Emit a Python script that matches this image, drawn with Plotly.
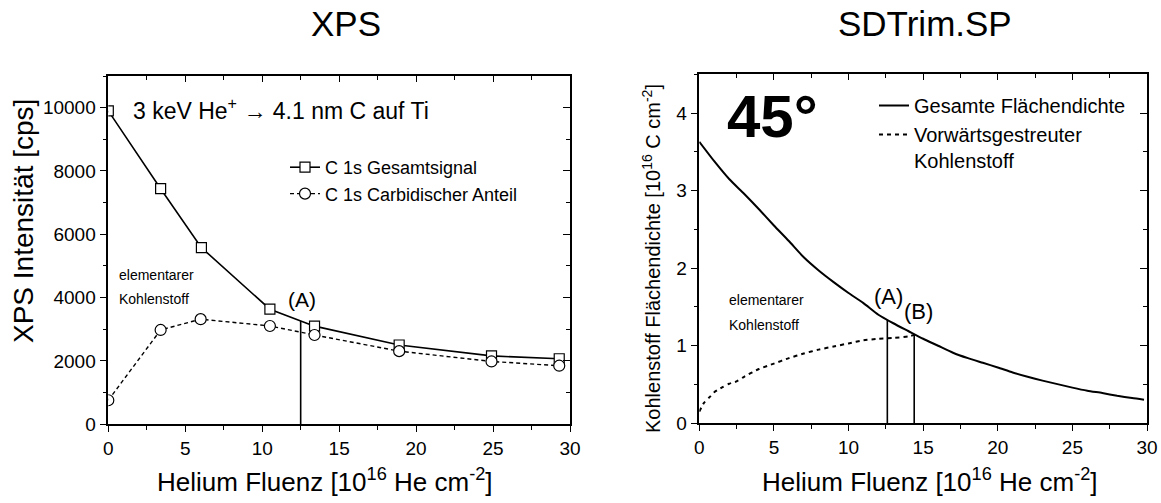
import numpy as np
import plotly.graph_objects as go

W, H = 1161, 503
FONT = "Liberation Sans, Arial, sans-serif"

# ---------------- data: XPS (left) ----------------
xps_fluence_total = [0.0, 3.4, 6.05, 10.5, 13.4, 18.9, 24.9, 29.3]
xps_total = [9900, 7440, 5580, 3635, 3100, 2505, 2160, 2070]
xps_fluence_carb = [0.0, 3.4, 6.0, 10.5, 13.4, 18.9, 24.9, 29.3]
xps_carb = [760, 2980, 3320, 3105, 2820, 2310, 1985, 1850]
xps_marker_A = [12.5]

# ---------------- data: SDTrim.SP (right) ----------------
sim_fluence_total = [0, 1, 2, 3, 4, 5, 6, 7, 8, 9, 10, 11, 12, 13, 14, 15, 16, 17,
                     18, 19, 20, 21, 22, 23, 24, 25, 26, 27, 28, 29, 29.8]
sim_total = [3.63, 3.38, 3.15, 2.96, 2.76, 2.55, 2.35, 2.14, 1.97, 1.82, 1.68, 1.55,
             1.40, 1.29, 1.19, 1.09, 1.00, 0.91, 0.84, 0.78, 0.72, 0.655, 0.60, 0.55,
             0.505, 0.46, 0.42, 0.39, 0.355, 0.325, 0.305]
sim_fluence_fwd = [0, 0.3, 0.7, 1, 1.5, 2, 2.5, 3, 4, 5, 6, 7, 8, 9, 10, 11, 12, 13, 14, 14.4]
sim_fwd = [0.15, 0.26, 0.34, 0.40, 0.46, 0.51, 0.54, 0.60, 0.70, 0.77, 0.84, 0.90,
           0.95, 0.99, 1.03, 1.07, 1.09, 1.10, 1.12, 1.14]
sim_markers = [12.6, 14.4]

x_ticks = [0, 5, 10, 15, 20, 25, 30]


def px(x):
    return x / W


def py(y):
    return 1 - y / H


fig = go.Figure()

# left panel traces
fig.add_trace(go.Scatter(
    x=xps_fluence_total, y=xps_total, mode="lines+markers", name="C 1s Gesamtsignal",
    line=dict(color="black", width=1.6),
    marker=dict(symbol="square", size=10, color="white", line=dict(color="black", width=1.2)),
    xaxis="x", yaxis="y", legend="legend"))
fig.add_trace(go.Scatter(
    x=xps_fluence_carb, y=xps_carb, mode="lines+markers", name="C 1s Carbidischer Anteil",
    line=dict(color="black", width=1.4, dash="4px,3px"),
    marker=dict(symbol="circle", size=11, color="white", line=dict(color="black", width=1.2)),
    xaxis="x", yaxis="y", legend="legend"))
for xm in xps_marker_A:
    fig.add_trace(go.Scatter(
        x=[xm, xm], y=[0, float(np.interp(xm, xps_fluence_total, xps_total))],
        mode="lines", line=dict(color="black", width=1.6), showlegend=False,
        xaxis="x", yaxis="y", hoverinfo="skip"))

# right panel traces
fig.add_trace(go.Scatter(
    x=sim_fluence_total, y=sim_total, mode="lines", name="Gesamte Flächendichte",
    line=dict(color="black", width=2, shape="spline", smoothing=0.6),
    xaxis="x2", yaxis="y2", legend="legend2"))
fig.add_trace(go.Scatter(
    x=sim_fluence_fwd, y=sim_fwd, mode="lines", name="Vorwärtsgestreuter<br>Kohlenstoff",
    line=dict(color="black", width=2, dash="4px,4px", shape="spline", smoothing=0.6),
    xaxis="x2", yaxis="y2", legend="legend2"))
for xm in sim_markers:
    fig.add_trace(go.Scatter(
        x=[xm, xm], y=[0, float(np.interp(xm, sim_fluence_total, sim_total))],
        mode="lines", line=dict(color="black", width=1.6), showlegend=False,
        xaxis="x2", yaxis="y2", hoverinfo="skip"))

# empty traces to activate the mirrored (inside-tick) overlay axes
for xa, ya in (("x3", "y3"), ("x4", "y4")):
    fig.add_trace(go.Scatter(x=[None], y=[None], mode="lines", showlegend=False,
                             xaxis=xa, yaxis=ya, hoverinfo="skip"))

L_dom_x = [px(108.3), px(570)]
L_dom_y = [py(424.3), py(76)]
R_dom_x = [px(699.3), px(1147)]
R_dom_y = [py(423.3), py(74.3)]

axis_common = dict(showgrid=False, zeroline=False, showline=True, linecolor="black",
                   linewidth=1.5, tickcolor="black", tickwidth=1.3, tickformat="d",
                   automargin=False,
                   tickfont=dict(family=FONT, size=19, color="black"))


def base_x(domain, anchor):
    return dict(axis_common, domain=domain, anchor=anchor, range=[0, 30], tickvals=x_ticks,
                ticks="outside", ticklen=6,
                minor=dict(dtick=2.5, tick0=0, ticks="outside", ticklen=3.5,
                           tickcolor="black", tickwidth=1.2))


def base_y(domain, anchor, rng, dtick, mdtick):
    return dict(axis_common, domain=domain, anchor=anchor, range=rng, dtick=dtick, tick0=0,
                ticks="outside", ticklen=7,
                minor=dict(dtick=mdtick, tick0=0, ticks="outside", ticklen=3.5,
                           tickcolor="black", tickwidth=1.2))


def top_x(base, anchor):
    return dict(axis_common, overlaying=base, anchor=anchor, side="top", range=[0, 30],
                tickvals=x_ticks, ticks="inside", ticklen=6, showticklabels=False,
                minor=dict(dtick=2.5, tick0=0, ticks="inside", ticklen=4,
                           tickcolor="black", tickwidth=1.2))


def right_y(base, anchor, rng, dtick, mdtick):
    return dict(axis_common, overlaying=base, anchor=anchor, side="right", range=rng,
                dtick=dtick, tick0=0, ticks="inside", ticklen=7, showticklabels=False,
                minor=dict(dtick=mdtick, tick0=0, ticks="inside", ticklen=4,
                           tickcolor="black", tickwidth=1.2))


fig.update_layout(
    width=W, height=H, margin=dict(l=0, r=0, t=0, b=0),
    paper_bgcolor="white", plot_bgcolor="white",
    font=dict(family=FONT, color="black"),
    xaxis=base_x(L_dom_x, "y"),
    yaxis=base_y(L_dom_y, "x", [0, 11000], 2000, 1000),
    xaxis2=base_x(R_dom_x, "y2"),
    yaxis2=base_y(R_dom_y, "x2", [0, 4.5], 1, 0.5),
    xaxis3=top_x("x", "y3"),
    yaxis3=right_y("y", "x3", [0, 11000], 2000, 1000),
    xaxis4=top_x("x2", "y4"),
    yaxis4=right_y("y2", "x4", [0, 4.5], 1, 0.5),
    legend=dict(x=px(285), y=py(149), xanchor="left", yanchor="top",
                bgcolor="rgba(0,0,0,0)", font=dict(family=FONT, size=18),
                tracegroupgap=0, itemwidth=30),
    legend2=dict(x=px(874), y=py(86), xanchor="left", yanchor="top", valign="top",
                 bgcolor="rgba(0,0,0,0)", font=dict(family=FONT, size=20),
                 tracegroupgap=0, itemwidth=30),
    showlegend=True,
)

ann = []


def paper_text(text, x, y, size, angle=0, xanchor="center", bold=False):
    ann.append(dict(text=f"<b>{text}</b>" if bold else text, x=px(x), y=py(y),
                    xref="paper", yref="paper", showarrow=False, textangle=angle,
                    xanchor=xanchor, yanchor="middle",
                    font=dict(family=FONT, size=size, color="black")))


def data_text(text, x, y, xr, yr, size, xanchor="center", bold=False):
    ann.append(dict(text=f"<b>{text}</b>" if bold else text, x=x, y=y, xref=xr, yref=yr,
                    showarrow=False, xanchor=xanchor, yanchor="middle",
                    font=dict(family=FONT, size=size, color="black")))


# panel titles
paper_text("XPS", 346, 23, 35)
paper_text("SDTrim.SP", 924.5, 23, 35)

# axis titles
paper_text("XPS Intensität [cps]", 24, 221, 28, angle=-90)
paper_text("Kohlenstoff Flächendichte [10<sup>16</sup> C cm<sup>-2</sup>]", 651, 259, 20, angle=-90)
paper_text("Helium Fluenz [10<sup>16</sup> He cm<sup>-2</sup>]", 325, 480, 26)
paper_text("Helium Fluenz [10<sup>16</sup> He cm<sup>-2</sup>]", 929.5, 480, 26)

# left panel labels
data_text("3 keV He<sup>+</sup> → 4.1 nm C auf Ti", 1.47, 9950, "x", "y", 23, xanchor="left")
data_text("elementarer", 0.55, 4716, "x", "y", 14, xanchor="left")
data_text("Kohlenstoff", 0.55, 3948, "x", "y", 14, xanchor="left")
data_text("(A)", 12.56, 3926, "x", "y", 21)

# right panel labels
data_text("45°", 4.9, 3.96, "x2", "y2", 60, bold=True)
data_text("elementarer", 1.83, 1.59, "x2", "y2", 14, xanchor="left")
data_text("Kohlenstoff", 1.83, 1.27, "x2", "y2", 14, xanchor="left")
data_text("(A)", 12.66, 1.63, "x2", "y2", 22)
data_text("(B)", 14.7, 1.44, "x2", "y2", 22)

fig.update_layout(annotations=ann)
fig.write_html("out.html")
